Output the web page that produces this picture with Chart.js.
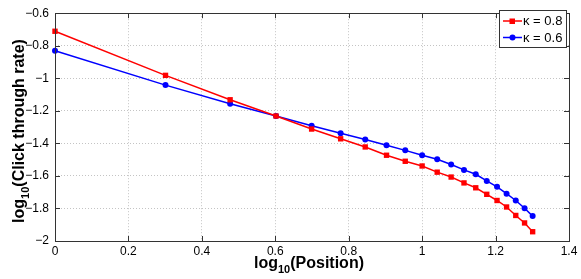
<!DOCTYPE html>
<html>
<head>
<meta charset="utf-8">
<script src="https://cdn.jsdelivr.net/npm/chart.js@4"></script>
<style>
  html,body{margin:0;padding:0;background:#fff;}
  #wrap{width:581px;height:279px;}
</style>
</head>
<body>
<div id="wrap"><canvas id="ctr" width="581" height="279"></canvas></div>
<script>
// log10 of positions 1..20
const positions = [0, 0.301, 0.477, 0.602, 0.699, 0.778, 0.845, 0.903, 0.954, 1.0,
  1.041, 1.079, 1.114, 1.146, 1.176, 1.204, 1.230, 1.255, 1.279, 1.301];
const ctrK08 = [-0.711, -0.982, -1.132, -1.232, -1.312, -1.372, -1.422, -1.473, -1.510, -1.539,
  -1.577, -1.607, -1.643, -1.673, -1.713, -1.751, -1.791, -1.843, -1.889, -1.943];
const ctrK06 = [-0.831, -1.042, -1.156, -1.232, -1.292, -1.338, -1.376, -1.412, -1.443, -1.473,
  -1.498, -1.530, -1.563, -1.590, -1.631, -1.667, -1.709, -1.751, -1.799, -1.847];
const seriesLabels = ["\u03ba = 0.8", "\u03ba = 0.6"];
const xTicks = [0, 0.2, 0.4, 0.6, 0.8, 1, 1.2, 1.4];
const yTicks = [-2, -1.8, -1.6, -1.4, -1.2, -1, -0.8, -0.6];

const FONT = '"Liberation Sans", Arial, sans-serif';
const fmt = v => {
  const s = String(Math.round(v * 10) / 10);
  return s.replace('-', '\u2212');
};

const pts = ys => positions.map((x, i) => ({x: x, y: ys[i]}));

// frame, inward ticks, axis titles with subscripts, legend
const matlabLook = {
  id: 'matlabLook',
  afterDraw(chart){
    const {ctx, chartArea: a, scales} = chart;
    ctx.save();
    ctx.strokeStyle = '#333';
    ctx.lineWidth = 1;
    ctx.strokeRect(Math.round(a.left)+0.5, Math.round(a.top)+0.5, Math.round(a.right-a.left), Math.round(a.bottom-a.top));
    ctx.beginPath();
    xTicks.forEach(t=>{
      const px = Math.round(scales.x.getPixelForValue(t))+0.5;
      ctx.moveTo(px, a.bottom); ctx.lineTo(px, a.bottom-5);
      ctx.moveTo(px, a.top); ctx.lineTo(px, a.top+5);
    });
    yTicks.forEach(t=>{
      const py = Math.round(scales.y.getPixelForValue(t))+0.5;
      ctx.moveTo(a.left, py); ctx.lineTo(a.left+5, py);
      ctx.moveTo(a.right, py); ctx.lineTo(a.right-5, py);
    });
    ctx.stroke();

    // axis titles
    const drawSub = (cx, cy, tail) => {
      ctx.font = 'bold 16px ' + FONT;
      const w1 = ctx.measureText('log').width;
      ctx.font = 'bold 11px ' + FONT;
      const w2 = ctx.measureText('10').width;
      ctx.font = 'bold 16px ' + FONT;
      const w3 = ctx.measureText(tail).width;
      let x = cx - (w1+w2+w3)/2;
      ctx.fillStyle = '#000';
      ctx.textBaseline = 'alphabetic';
      ctx.textAlign = 'left';
      ctx.fillText('log', x, cy);
      ctx.font = 'bold 11px ' + FONT;
      ctx.fillText('10', x+w1, cy+5);
      ctx.font = 'bold 16px ' + FONT;
      ctx.fillText(tail, x+w1+w2, cy);
    };
    drawSub(309, 268, '(Position)');
    ctx.save();
    ctx.translate(24, 131);
    ctx.rotate(-Math.PI/2);
    drawSub(0, 0, '(Click through rate)');
    ctx.restore();

    // legend
    const lx = 499.5, ly = 10.5, lw = 67, lh = 37;
    ctx.fillStyle = '#fff';
    ctx.fillRect(lx, ly, lw, lh);
    ctx.strokeStyle = '#333';
    ctx.strokeRect(lx, ly, lw, lh);
    const cols = ['#ff0000', '#0000ff'];
    seriesLabels.forEach((lab, i)=>{
      const y = 21 + i*16.5;
      ctx.strokeStyle = cols[i];
      ctx.lineWidth = 1.5;
      ctx.beginPath(); ctx.moveTo(503, y); ctx.lineTo(522, y); ctx.stroke();
      ctx.fillStyle = cols[i];
      if(i===0){ ctx.fillRect(509.5, y-2.5, 5.5, 5.5); }
      else { ctx.beginPath(); ctx.arc(512.5, y, 3, 0, Math.PI*2); ctx.fill(); }
      ctx.fillStyle = '#000';
      ctx.font = '13px ' + FONT;
      ctx.textBaseline = 'middle';
      ctx.textAlign = 'left';
      ctx.fillText(lab, 523, y+0.5);
    });
    ctx.restore();
  }
};

new Chart(document.getElementById('ctr'), {
  type: 'line',
  data: {
    datasets: [
      {label: seriesLabels[0], data: pts(ctrK08), borderColor: '#ff0000', backgroundColor: '#ff0000',
        borderWidth: 1.5, pointStyle: 'rect', pointRadius: 3.8, pointBorderWidth: 0, tension: 0, clip: false},
      {label: seriesLabels[1], data: pts(ctrK06), borderColor: '#0000ff', backgroundColor: '#0000ff',
        borderWidth: 1.5, pointStyle: 'circle', pointRadius: 3, pointBorderWidth: 0, tension: 0, clip: false}
    ]
  },
  options: {
    responsive: false,
    animation: false,
    devicePixelRatio: 1,
    layout: {padding: {left: 0, right: 12, top: 7, bottom: 0}},
    plugins: {legend: {display: false}, tooltip: {enabled: false}},
    scales: {
      x: {
        type: 'linear', min: 0, max: 1.4,
        afterFit: s => { s.height = 38; },
        afterBuildTicks: s => { s.ticks = xTicks.map(v => ({value: v})); },
        grid: {color: '#c4c4c4', drawTicks: false, lineWidth: 1},
        border: {display: false, dash: [1, 2]},
        ticks: {padding: 3, color: '#000', font: {family: FONT, size: 12}, callback: v => fmt(v), maxRotation: 0}
      },
      y: {
        type: 'linear', min: -2, max: -0.6,
        afterFit: s => { s.width = 55; },
        afterBuildTicks: s => { s.ticks = yTicks.map(v => ({value: v})); },
        grid: {color: '#c4c4c4', drawTicks: false, lineWidth: 1},
        border: {display: false, dash: [1, 2]},
        ticks: {padding: 6, color: '#000', font: {family: FONT, size: 12}, callback: v => fmt(v)}
      }
    }
  },
  plugins: [matlabLook]
});
</script>
</body>
</html>
